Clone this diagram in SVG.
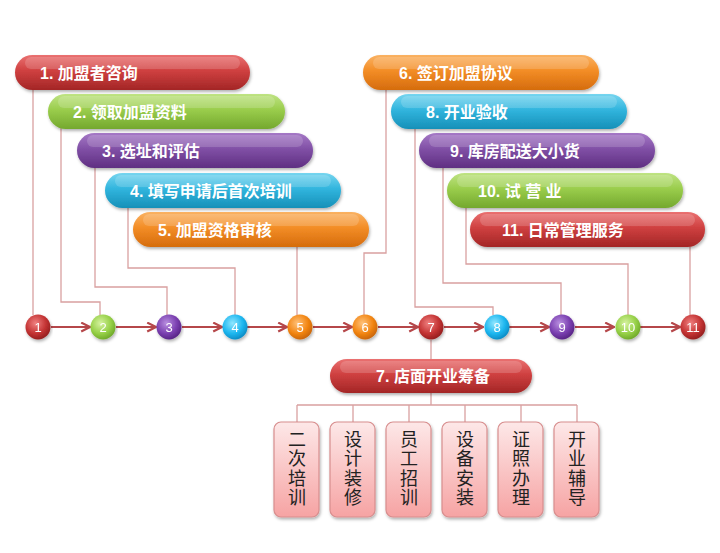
<svg xmlns="http://www.w3.org/2000/svg" width="720" height="553" viewBox="0 0 720 553">
<defs>
  <linearGradient id="gRed" x1="0" y1="0" x2="0" y2="1">
    <stop offset="0" stop-color="#ea7171"/><stop offset="0.45" stop-color="#cf4040"/><stop offset="1" stop-color="#a32626"/>
  </linearGradient>
  <linearGradient id="gGreen" x1="0" y1="0" x2="0" y2="1">
    <stop offset="0" stop-color="#bfe383"/><stop offset="0.45" stop-color="#9acd4c"/><stop offset="1" stop-color="#74a82e"/>
  </linearGradient>
  <linearGradient id="gPurple" x1="0" y1="0" x2="0" y2="1">
    <stop offset="0" stop-color="#a579c6"/><stop offset="0.45" stop-color="#8150a6"/><stop offset="1" stop-color="#5f2f82"/>
  </linearGradient>
  <linearGradient id="gBlue" x1="0" y1="0" x2="0" y2="1">
    <stop offset="0" stop-color="#76d5ef"/><stop offset="0.45" stop-color="#31b5de"/><stop offset="1" stop-color="#1790b8"/>
  </linearGradient>
  <linearGradient id="gOrange" x1="0" y1="0" x2="0" y2="1">
    <stop offset="0" stop-color="#fab263"/><stop offset="0.45" stop-color="#f38d26"/><stop offset="1" stop-color="#d56c0d"/>
  </linearGradient>
  <linearGradient id="gBox" x1="0" y1="0" x2="0" y2="1">
    <stop offset="0" stop-color="#fde8e8"/><stop offset="1" stop-color="#f6a3a3"/>
  </linearGradient>
  <radialGradient id="cRed" cx="0.4" cy="0.35" r="0.7">
    <stop offset="0" stop-color="#f08080"/><stop offset="0.6" stop-color="#c33333"/><stop offset="1" stop-color="#8e1c1c"/>
  </radialGradient>
  <radialGradient id="cGreen" cx="0.4" cy="0.35" r="0.7">
    <stop offset="0" stop-color="#d6f2a0"/><stop offset="0.6" stop-color="#96d047"/><stop offset="1" stop-color="#6aa425"/>
  </radialGradient>
  <radialGradient id="cPurple" cx="0.4" cy="0.35" r="0.7">
    <stop offset="0" stop-color="#b98fe0"/><stop offset="0.6" stop-color="#7a3fb0"/><stop offset="1" stop-color="#53207f"/>
  </radialGradient>
  <radialGradient id="cBlue" cx="0.4" cy="0.35" r="0.7">
    <stop offset="0" stop-color="#8fe6ff"/><stop offset="0.6" stop-color="#1cb6ef"/><stop offset="1" stop-color="#0a86bf"/>
  </radialGradient>
  <radialGradient id="cOrange" cx="0.4" cy="0.35" r="0.7">
    <stop offset="0" stop-color="#ffc27a"/><stop offset="0.6" stop-color="#f28512"/><stop offset="1" stop-color="#c46105"/>
  </radialGradient>
  <filter id="sh" x="-10%" y="-20%" width="120%" height="160%">
    <feDropShadow dx="1" dy="2" stdDeviation="1.5" flood-color="#000" flood-opacity="0.3"/>
  </filter>
  <marker id="arr" viewBox="0 0 10 10" refX="9" refY="5" markerWidth="5" markerHeight="5" orient="auto" markerUnits="strokeWidth">
    <path d="M1,1 L9,5 L1,9" fill="none" stroke="#b5474a" stroke-width="2"/>
  </marker>
</defs>
<style>
  .pill { filter: url(#sh); }
  .gloss { fill: #fff; opacity: 0.16; }
  .pt { font-family: "Liberation Sans", "Noto Sans CJK SC", sans-serif; font-weight: bold; font-size: 16px; fill: #fff; }
  .ct { font-family: "Liberation Sans", "Noto Sans CJK SC", sans-serif; font-size: 13px; fill: #fff; text-anchor: middle; }
  .bt { font-family: "Noto Sans CJK SC", sans-serif; font-size: 18px; fill: #222; text-anchor: middle; writing-mode: vertical-rl; letter-spacing: 1.5px; }
  .ln { fill: none; stroke: #d9a0a0; stroke-width: 1.3; }
  .ar { fill: none; stroke: #b5474a; stroke-width: 2.2; marker-end: url(#arr); }
  .box { fill: url(#gBox); stroke: #d88e8e; stroke-width: 1.2; filter: url(#sh); }
  .cs { filter: url(#sh); }
</style>

<g id="connectors">
  <path class="ln" d="M33,90 V315"/>
  <path class="ln" d="M61,128 V302 H100 V315"/>
  <path class="ln" d="M95,168 V287 H167 V315"/>
  <path class="ln" d="M128,208 V268 H235 V315"/>
  <path class="ln" d="M297,247 V315"/>
  <path class="ln" d="M386,90 V253 H364 V315"/>
  <path class="ln" d="M415,128 V307 H493 V315"/>
  <path class="ln" d="M443,168 V283 H561 V315"/>
  <path class="ln" d="M466,208 V264 H628 V315"/>
  <path class="ln" d="M690,247 V315"/>
  <path class="ln" d="M431,340 V359"/>
  <path class="ln" d="M431,393 V405 M297,405 H577 M297,405 V422 M353,405 V422 M409,405 V422 M465,405 V422 M521,405 V422 M577,405 V422"/>
  <path class="ar" d="M51,327 H90"/>
  <path class="ar" d="M116,327 H156"/>
  <path class="ar" d="M182,327 H222"/>
  <path class="ar" d="M247,327 H287"/>
  <path class="ar" d="M313,327 H352"/>
  <path class="ar" d="M378,327 H418"/>
  <path class="ar" d="M444,327 H483"/>
  <path class="ar" d="M509,327 H549"/>
  <path class="ar" d="M575,327 H614"/>
  <path class="ar" d="M640,327 H680"/>
</g>

<g id="step1"><rect class="pill" x="15" y="55" width="235" height="35" rx="17.5" fill="url(#gRed)"/><rect class="gloss" x="25" y="57" width="215" height="12" rx="6"/><text class="pt" x="40" y="79">1. 加盟者咨询</text></g>
<g id="step2"><rect class="pill" x="48" y="94" width="237" height="35" rx="17.5" fill="url(#gGreen)"/><rect class="gloss" x="58" y="96" width="217" height="12" rx="6"/><text class="pt" x="73" y="118">2. 领取加盟资料</text></g>
<g id="step3"><rect class="pill" x="77" y="133" width="236" height="35" rx="17.5" fill="url(#gPurple)"/><rect class="gloss" x="87" y="135" width="216" height="12" rx="6"/><text class="pt" x="102" y="157">3. 选址和评估</text></g>
<g id="step4"><rect class="pill" x="105" y="173" width="236" height="35" rx="17.5" fill="url(#gBlue)"/><rect class="gloss" x="115" y="175" width="216" height="12" rx="6"/><text class="pt" x="130" y="197">4. 填写申请后首次培训</text></g>
<g id="step5"><rect class="pill" x="133" y="212" width="236" height="35" rx="17.5" fill="url(#gOrange)"/><rect class="gloss" x="143" y="214" width="216" height="12" rx="6"/><text class="pt" x="158" y="236">5. 加盟资格审核</text></g>

<g id="step6"><rect class="pill" x="363" y="55" width="236" height="35" rx="17.5" fill="url(#gOrange)"/><rect class="gloss" x="373" y="57" width="216" height="12" rx="6"/><text class="pt" x="399" y="79">6. 签订加盟协议</text></g>
<g id="step8"><rect class="pill" x="391" y="94" width="236" height="35" rx="17.5" fill="url(#gBlue)"/><rect class="gloss" x="401" y="96" width="216" height="12" rx="6"/><text class="pt" x="426" y="118">8. 开业验收</text></g>
<g id="step9"><rect class="pill" x="419" y="133" width="236" height="35" rx="17.5" fill="url(#gPurple)"/><rect class="gloss" x="429" y="135" width="216" height="12" rx="6"/><text class="pt" x="450" y="157">9. 库房配送大小货</text></g>
<g id="step10"><rect class="pill" x="447" y="173" width="236" height="35" rx="17.5" fill="url(#gGreen)"/><rect class="gloss" x="457" y="175" width="216" height="12" rx="6"/><text class="pt" x="478" y="197">10. 试 营 业</text></g>
<g id="step11"><rect class="pill" x="470" y="212" width="235" height="35" rx="17.5" fill="url(#gRed)"/><rect class="gloss" x="480" y="214" width="215" height="12" rx="6"/><text class="pt" x="502" y="236">11. 日常管理服务</text></g>

<g id="c1" class="cs"><circle cx="38" cy="327" r="12.5" fill="url(#cRed)"/><text class="ct" x="38" y="332">1</text></g>
<g id="c2" class="cs"><circle cx="103" cy="327" r="12.5" fill="url(#cGreen)"/><text class="ct" x="103" y="332">2</text></g>
<g id="c3" class="cs"><circle cx="169" cy="327" r="12.5" fill="url(#cPurple)"/><text class="ct" x="169" y="332">3</text></g>
<g id="c4" class="cs"><circle cx="235" cy="327" r="12.5" fill="url(#cBlue)"/><text class="ct" x="235" y="332">4</text></g>
<g id="c5" class="cs"><circle cx="300" cy="327" r="12.5" fill="url(#cOrange)"/><text class="ct" x="300" y="332">5</text></g>
<g id="c6" class="cs"><circle cx="365" cy="327" r="12.5" fill="url(#cOrange)"/><text class="ct" x="365" y="332">6</text></g>
<g id="c7" class="cs"><circle cx="431" cy="327" r="12.5" fill="url(#cRed)"/><text class="ct" x="431" y="332">7</text></g>
<g id="c8" class="cs"><circle cx="497" cy="327" r="12.5" fill="url(#cBlue)"/><text class="ct" x="497" y="332">8</text></g>
<g id="c9" class="cs"><circle cx="562" cy="327" r="12.5" fill="url(#cPurple)"/><text class="ct" x="562" y="332">9</text></g>
<g id="c10" class="cs"><circle cx="628" cy="327" r="12.5" fill="url(#cGreen)"/><text class="ct" x="628" y="332">10</text></g>
<g id="c11" class="cs"><circle cx="693" cy="327" r="12.5" fill="url(#cRed)"/><text class="ct" x="693" y="332">11</text></g>

<g id="step7"><rect class="pill" x="330" y="359" width="202" height="34" rx="17" fill="url(#gRed)"/><rect class="gloss" x="340" y="361" width="182" height="12" rx="6"/><text class="pt" x="433" y="382" text-anchor="middle">7. 店面开业筹备</text></g>

<g id="b1"><rect class="box" x="274" y="422" width="45" height="95" rx="7"/><text class="bt" x="297" y="469">二次培训</text></g>
<g id="b2"><rect class="box" x="330" y="422" width="45" height="95" rx="7"/><text class="bt" x="353" y="469">设计装修</text></g>
<g id="b3"><rect class="box" x="386" y="422" width="45" height="95" rx="7"/><text class="bt" x="409" y="469">员工招训</text></g>
<g id="b4"><rect class="box" x="442" y="422" width="45" height="95" rx="7"/><text class="bt" x="465" y="469">设备安装</text></g>
<g id="b5"><rect class="box" x="498" y="422" width="45" height="95" rx="7"/><text class="bt" x="521" y="469">证照办理</text></g>
<g id="b6"><rect class="box" x="554" y="422" width="45" height="95" rx="7"/><text class="bt" x="577" y="469">开业辅导</text></g>
</svg>
